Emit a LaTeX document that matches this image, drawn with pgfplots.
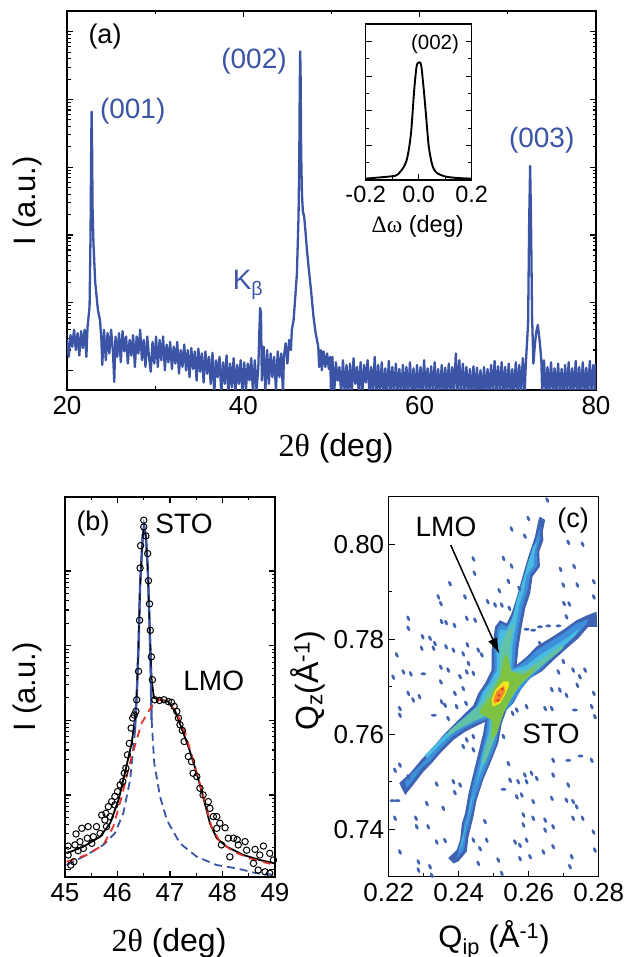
\documentclass[border=0pt]{standalone}
\usepackage{fontspec}
\usepackage{pgfplots}
\usetikzlibrary{arrows.meta}
\pgfplotsset{compat=1.18}
\setmainfont{Liberation Sans}
\newfontfamily\serifgreek{Liberation Serif}
\definecolor{xblue}{HTML}{3B54A5}
\definecolor{xred}{HTML}{E0342B}
\definecolor{cA}{HTML}{3F62B2}
\definecolor{cB}{HTML}{3C8FD8}
\definecolor{cC}{HTML}{49BBE0}
\definecolor{cD}{HTML}{62C2A5}
\definecolor{cE}{HTML}{7DC242}
\definecolor{cF}{HTML}{F5E51B}
\definecolor{cG}{HTML}{F28C28}
\definecolor{cH}{HTML}{E2482D}
\newcommand{\fs}[1]{\fontsize{#1}{#1}\selectfont}
\pgfplotsset{
  panel/.style={scale only axis, anchor=south west, axis line style={line width=1.9pt},
    tick align=inside, major tick length=6pt, minor tick length=3.5pt,
    every tick/.style={black,line width=1.3pt}, every minor tick/.style={black,line width=1.1pt},
    tick label style={font=\fs{26}}},
  table/logrows/.style={row sep=\\, header=false, x index=0, y expr={pow(10,\thisrowno{1})}},
}
\begin{document}
\begin{tikzpicture}[x=1pt,y=1pt]
\useasboundingbox (0,0) rectangle (627,957);

% (a) full scan, y column is log10 of intensity
\begin{axis}[panel, at={(67pt,567pt)}, width=529pt, height=379pt,
  xmin=20, xmax=80, ymode=log, ymin=0.513, ymax=202800,
  xtick={20,40,60,80}, xticklabels={20,40,60,80}, minor xtick={30,50,70},
  ytick={1,10,100,1000,10000,100000}, yticklabels={},
  xticklabel style={yshift=-3pt}]
\addplot[xblue, line width=2.3pt, line join=round] table[logrows] {
20.0 0.45\\20.2 0.20\\20.4 0.52\\20.6 0.35\\20.8 0.60\\21.0 0.30\\21.2 0.55\\21.4 0.22\\21.6 0.58\\21.8 0.33\\22.0 0.60\\22.2 0.20\\
22.33 0.64\\22.56 0.94\\22.67 2.02\\22.75 3.40\\22.79 3.82\\22.84 3.40\\22.90 2.40\\23.00 1.88\\23.20 1.30\\23.50 0.90\\23.74 0.74\\23.90 0.45\\24.0 0.08\\
24.2 0.60\\24.4 0.15\\24.6 0.55\\24.8 0.25\\25.0 0.60\\25.2 0.30\\25.36 -0.17\\25.5 0.50\\25.7 0.20\\25.9 0.55\\26.1 0.12\\26.3 0.58\\26.5 0.28\\26.7 0.50\\26.9 0.10\\
27.1 0.45\\27.3 0.22\\27.5 0.52\\27.7 0.05\\27.9 0.50\\28.1 0.25\\28.3 0.60\\28.5 0.15\\28.7 0.45\\28.9 0.05\\29.1 0.50\\29.3 0.20\\29.5 -0.02\\29.7 0.42\\29.9 0.10\\
30.1 0.50\\30.3 0.05\\30.5 0.45\\30.7 0.15\\30.9 0.50\\31.1 0.00\\31.3 0.38\\31.5 0.12\\31.7 0.42\\31.9 0.02\\32.1 0.35\\32.3 0.10\\32.5 0.42\\32.7 -0.05\\32.9 0.30\\
33.1 0.05\\33.3 0.38\\33.5 0.00\\33.7 0.30\\33.9 -0.10\\34.1 0.33\\34.3 0.02\\34.5 0.28\\34.7 -0.15\\34.9 0.32\\35.1 -0.02\\35.3 0.25\\35.5 -0.18\\35.7 0.28\\35.9 -0.05\\
36.1 0.20\\36.3 -0.20\\36.5 0.26\\36.7 -0.35\\36.9 0.15\\37.1 -0.10\\37.3 0.20\\37.5 -0.35\\37.7 0.12\\37.9 -0.20\\38.1 0.22\\38.3 -0.35\\38.5 0.10\\38.7 -0.25\\38.9 0.18\\
39.1 -0.35\\39.3 0.08\\39.5 -0.20\\39.7 0.15\\39.9 -0.35\\40.1 0.12\\40.3 -0.28\\40.5 0.10\\40.7 -0.15\\40.9 0.18\\41.1 -0.35\\41.3 0.15\\41.5 -0.30\\41.7 0.05\\
41.8 0.50\\41.9 0.92\\42.0 0.85\\42.1 -0.15\\42.3 0.35\\42.5 -0.30\\42.7 0.30\\42.9 -0.20\\43.1 0.25\\43.3 -0.10\\43.5 0.20\\43.7 -0.30\\43.9 0.28\\44.1 -0.10\\44.3 0.25\\44.5 -0.35\\
44.6 0.20\\44.8 0.40\\45.0 0.10\\45.2 0.45\\45.4 0.30\\45.5 0.60\\45.7 0.74\\45.9 1.10\\46.08 1.44\\46.26 2.27\\46.35 3.20\\46.40 4.20\\46.45 4.71\\46.50 4.30\\46.56 3.20\\46.65 2.60\\46.75 2.35\\46.90 2.27\\47.05 2.05\\47.20 1.80\\47.40 1.53\\47.70 1.15\\47.96 0.79\\48.20 0.55\\48.50 0.35\\
48.6 0.05\\48.8 0.30\\48.9 0.00\\49.1 0.28\\49.3 0.05\\49.5 0.25\\49.7 0.02\\49.85 0.20\\49.95 -0.35\\
50.1 0.20\\50.3 -0.35\\50.5 0.12\\50.7 -0.15\\50.9 0.05\\51.1 -0.35\\51.3 0.15\\51.5 -0.35\\51.7 0.08\\51.9 -0.35\\52.1 0.10\\52.3 -0.35\\52.5 0.18\\52.7 -0.20\\52.9 0.05\\
53.1 -0.35\\53.3 0.12\\53.5 -0.35\\53.7 0.08\\53.9 -0.18\\54.1 0.15\\54.3 -0.35\\54.5 0.05\\54.7 -0.35\\54.9 0.20\\55.1 -0.35\\55.3 0.08\\55.5 -0.35\\55.7 0.12\\55.9 -0.35\\
56.1 0.03\\56.3 -0.35\\56.5 0.14\\56.7 -0.35\\56.9 0.05\\57.1 -0.35\\57.3 0.10\\57.5 -0.35\\57.7 0.02\\57.9 -0.35\\58.1 0.08\\58.3 -0.35\\58.5 0.05\\58.7 -0.35\\58.9 0.12\\
59.1 -0.35\\59.3 0.03\\59.5 -0.35\\59.7 0.08\\59.9 -0.35\\60.1 0.05\\60.3 -0.35\\60.5 0.15\\60.7 -0.35\\60.9 0.03\\61.1 -0.35\\61.3 0.06\\61.5 -0.35\\61.7 0.12\\61.9 -0.35\\
62.1 0.02\\62.3 -0.35\\62.5 0.08\\62.7 -0.35\\62.9 0.04\\63.1 -0.35\\63.3 0.10\\63.5 -0.35\\63.7 0.05\\63.9 -0.35\\64.1 0.25\\64.3 -0.35\\64.5 0.15\\64.7 -0.35\\64.9 0.10\\
65.1 -0.35\\65.3 0.05\\65.5 -0.35\\65.7 0.02\\65.9 -0.35\\66.1 0.06\\66.3 -0.35\\66.5 0.04\\66.7 -0.35\\66.9 0.00\\67.1 -0.35\\67.3 0.05\\67.5 -0.35\\67.7 0.02\\67.9 -0.35\\
68.1 0.08\\68.3 -0.35\\68.5 0.14\\68.7 -0.35\\68.9 0.06\\69.1 -0.35\\69.3 0.12\\69.5 -0.35\\69.7 0.05\\69.9 -0.35\\70.1 0.10\\70.3 -0.35\\70.5 0.02\\70.7 -0.35\\70.9 0.12\\
71.1 -0.35\\71.3 0.08\\71.5 -0.35\\71.7 0.18\\71.9 -0.35\\72.05 0.12\\72.15 0.35\\72.30 0.70\\72.42 2.20\\72.53 3.02\\72.63 2.20\\72.75 0.80\\72.90 0.10\\73.05 0.35\\73.20 0.55\\73.40 0.67\\73.60 0.45\\73.80 0.15\\73.90 -0.35\\
74.1 0.15\\74.3 -0.35\\74.5 0.05\\74.7 -0.35\\74.9 0.12\\75.1 -0.35\\75.3 0.03\\75.5 -0.35\\75.7 0.10\\75.9 -0.35\\76.1 0.02\\76.3 -0.35\\76.5 0.08\\76.7 -0.35\\76.9 0.12\\
77.1 -0.35\\77.3 0.03\\77.5 -0.35\\77.7 0.14\\77.9 -0.35\\78.1 0.05\\78.3 -0.35\\78.5 0.12\\78.7 -0.35\\78.9 0.04\\79.1 -0.35\\79.3 0.14\\79.5 -0.35\\79.7 0.08\\79.9 -0.35\\80.0 0.10\\
};
\end{axis}

% inset rocking curve
\begin{axis}[scale only axis, anchor=south west, at={(365.7pt,777pt)}, width=106pt, height=156pt,
  axis line style={line width=1.5pt}, tick align=inside, major tick length=6pt, minor tick length=3.5pt,
  every tick/.style={black,line width=1.2pt}, every minor tick/.style={black,line width=1.1pt},
  xmin=-0.2, xmax=0.2, ymin=0, ymax=9.02,
  xtick={-0.2,0,0.2}, xticklabels={-0.2,0.0,0.2}, minor xtick={-0.1,0.1}, xtick pos=bottom,
  ytick={2,4,6,8}, yticklabels={}, minor ytick={1,3,5,7},
  xticklabel style={font=\fs{23.5},yshift=-3pt}]
\addplot[black, line width=1.9pt, smooth] coordinates {
(-0.2,0.08)(-0.105,0.21)(-0.08,0.31)(-0.055,0.79)(-0.042,1.37)(-0.029,2.71)(-0.017,5.2)(-0.008,6.56)(0,6.79)
(0.009,6.65)(0.018,5.4)(0.028,3.67)(0.038,1.94)(0.051,0.88)(0.066,0.44)(0.098,0.21)(0.142,0.12)(0.2,0.08)};
\end{axis}

% (b) zoom on the (002) peak, y column is log10 of intensity
\begin{axis}[panel, at={(65pt,80.3pt)}, width=210pt, height=380pt,
  xmin=45, xmax=49, ymode=log, ymin=0.0802, ymax=9908,
  xtick={45,46,47,48,49}, xticklabels={45,46,47,48,49}, minor xtick={45.5,46.5,47.5,48.5},
  ytick={0.1,1,10,100,1000}, yticklabels={},
  xticklabel style={yshift=-3pt}]
\addplot[only marks, mark=o, mark size=3.2pt, mark options={black,line width=1pt}] table[logrows] {
46.50 3.68\\46.50 3.59\\46.54 3.47\\46.44 3.34\\46.575 3.235\\46.43 3.04\\46.59 2.87\\46.61 2.56\\46.42 2.34\\46.625 2.206\\46.645 1.85\\46.40 1.655\\46.665 1.544\\46.365 1.275\\
46.35 1.12\\46.32 1.07\\46.29 1.03\\46.26 0.895\\46.225 0.69\\46.19 0.537\\46.16 0.358\\46.13 0.29\\46.10 0.18\\46.05 0.134\\46.00 0.045\\45.95 -0.02\\45.89 -0.09\\45.825 -0.157\\45.78 -0.246\\45.70 -0.27\\45.76 -0.336\\
45.60 -0.425\\45.44 -0.425\\45.32 -0.447\\45.21 -0.523\\45.425 -0.58\\45.54 -0.56\\45.285 -0.626\\45.19 -0.67\\45.06 -0.685\\45.35 -0.716\\45.25 -0.747\\45.51 -0.649\\45.06 -0.805\\45.17 -0.895\\45.11 -0.94\\45.67 -0.515\\45.79 -0.425\\45.86 -0.29\\45.95 -0.134\\
46.71 1.275\\46.80 1.266\\46.885 1.275\\46.97 1.25\\47.03 1.24\\47.08 1.186\\47.13 1.12\\47.16 1.03\\47.19 0.94\\47.235 0.864\\47.27 0.716\\47.35 0.515\\47.41 0.447\\47.44 0.29\\47.51 0.246\\47.57 0.09\\47.63 0\\47.73 -0.09\\47.76 -0.18\\47.825 -0.29\\47.89 -0.29\\47.95 -0.38\\48.05 -0.44\\47.89 -0.447\\47.98 -0.67\\
48.11 -0.58\\48.21 -0.58\\48.28 -0.60\\48.43 -0.626\\48.30 -0.67\\48.14 -0.83\\48.46 -0.74\\48.62 -0.73\\48.78 -0.685\\48.90 -0.783\\48.71 -0.805\\48.97 -0.872\\48.59 -0.917\\48.68 -1.007\\48.81 -1.03\\48.90 -1.05\\
};
% sum of the two fits
\addplot[black, line width=1.8pt] table[logrows] {
45.03 -0.783\\45.35 -0.694\\45.67 -0.559\\45.86 -0.38\\46.02 -0.067\\46.14 0.291\\46.27 0.694\\46.33 1.007\\46.365 1.32\\46.40 1.99\\46.43 2.80\\46.48 3.47\\46.505 3.60\\46.54 3.47\\46.575 3.06\\46.61 2.30\\46.65 1.54\\46.695 1.30\\46.81 1.275\\46.97 1.25\\47.10 1.12\\47.22 0.895\\47.35 0.649\\47.48 0.358\\47.63 -0.022\\47.76 -0.38\\47.89 -0.58\\48.08 -0.694\\48.40 -0.805\\48.71 -0.872\\49.00 -0.917\\
};
% STO tails
\addplot[xblue, dash pattern=on 8pt off 5pt, line width=1.8pt] table[logrows] {
45.03 -0.94\\45.41 -0.805\\45.73 -0.67\\45.95 -0.515\\46.11 -0.246\\46.24 0.20\\46.33 0.83\\
};
\addplot[xblue, dash pattern=on 8pt off 5pt, line width=1.8pt] table[logrows] {
46.65 1.007\\46.70 0.425\\46.81 -0.022\\46.94 -0.336\\47.19 -0.649\\47.51 -0.828\\47.89 -0.94\\48.27 -0.984\\48.65 -1.05\\49.00 -1.07\\
};
% STO peak
\addplot[xblue, line width=2.3pt] table[logrows] {
46.33 0.83\\46.37 1.40\\46.40 1.99\\46.43 2.80\\46.48 3.47\\46.505 3.60\\46.54 3.47\\46.575 3.06\\46.61 2.30\\46.63 1.70\\46.65 1.007\\
};
\addplot[black, dash pattern=on 7pt off 9pt, line width=1.1pt] table[logrows] {
46.365 1.32\\46.40 1.99\\46.43 2.80\\46.48 3.47\\46.505 3.60\\46.54 3.47\\46.575 3.06\\46.61 2.30\\46.65 1.54\\
};
% LMO
\addplot[xred, dash pattern=on 8pt off 6pt, line width=1.8pt] table[logrows] {
45.03 -0.895\\45.41 -0.805\\45.73 -0.67\\45.92 -0.425\\46.08 -0.022\\46.27 0.515\\46.46 0.962\\46.65 1.186\\46.81 1.284\\46.97 1.24\\47.13 1.096\\47.29 0.828\\47.44 0.47\\47.63 0\\47.79 -0.425\\47.95 -0.626\\48.21 -0.76\\48.52 -0.85\\49.00 -0.94\\
};
\end{axis}

% (c) reciprocal space map
\begin{axis}[panel, at={(388.7pt,80.3pt)}, width=210pt, height=380pt,
  axis line style={line width=1.5pt},
  xmin=0.22, xmax=0.28, ymin=0.73, ymax=0.81,
  xtick={0.22,0.24,0.26,0.28}, xticklabels={0.22,0.24,0.26,0.28}, minor xtick={0.23,0.25,0.27}, xtick pos=bottom,
  ytick={0.74,0.76,0.78,0.80}, yticklabels={0.74,0.76,0.78,0.80}, minor ytick={0.75,0.77,0.79}, ytick pos=left,
  xticklabel style={yshift=-3pt}, yticklabel style={xshift=-1pt}]
\addplot[only marks, mark=*, mark size=1.25pt, mark options={cA,draw=none,fill=cA,rotate=25,yscale=2.1}] coordinates {
(.2653,.8093)(.2599,.8054)(.2551,.8032)(.2589,.8017)(.2713,.8004)(.2754,.8000)(.2442,.7969)(.2528,.7970)(.2551,.7954)(.2691,.7947)
(.2730,.7953)(.2445,.7939)(.2375,.7917)(.2516,.7902)(.2542,.7922)(.2573,.7907)(.2699,.7914)(.2739,.7914)(.2786,.7921)(.2342,.7889)
(.2349,.7875)(.2418,.7889)(.2483,.7879)(.2504,.7872)(.2523,.7872)(.2545,.7865)(.2701,.7875)(.2716,.7874)(.2786,.7889)(.2256,.7844)
(.2256,.7823)(.2351,.7837)(.2364,.7835)(.2388,.7829)(.2423,.7844)(.2447,.7840)(.2708,.7847)(.2297,.7805)(.2318,.7802)(.2332,.7791)
(.2328,.7781)(.2294,.7781)(.2223,.7767)(.2364,.7784)(.2385,.7777)(.2413,.7769)(.2425,.7788)(.2456,.7777)(.2466,.7767)(.2632,.7791)
(.2428,.7749)(.2442,.7728)(.2423,.7731)(.2404,.7721)(.2370,.7735)(.2349,.7741)(.2242,.7731)(.2263,.7727)(.2213,.7720)(.2349,.7710)
(.2413,.7696)(.2389,.7686)(.2256,.7686)(.2270,.7672)(.2288,.7679)(.2232,.7654)(.2232,.7640)(.2351,.7668)(.2370,.7633)(.2394,.7658)
(.2421,.7665)(.2361,.7661)(.2666,.7694)(.2689,.7693)(.2708,.7682)(.2746,.7721)(.2761,.7735)(.2727,.7735)(.2685,.7731)(.2739,.7703)
(.2786,.7686)(.2789,.7637)(.2780,.7658)(.2666,.7654)(.2647,.7654)(.2594,.7658)(.2566,.7651)(.2554,.7644)(.2699,.7753)(.2423,.7588)
(.2442,.7595)(.2442,.7567)(.2413,.7574)(.2528,.7595)(.2542,.7538)(.2670,.7545)(.2780,.7545)(.2232,.7535)(.2218,.7524)(.2256,.7510)
(.2337,.7495)(.2385,.7500)(.2404,.7493)(.2389,.7477)(.2309,.7454)(.2356,.7444)(.2278,.7423)(.2280,.7405)(.2313,.7405)(.2218,.7423)
(.2547,.7503)(.2570,.7500)(.2589,.7514)(.2608,.7518)(.2594,.7500)(.2623,.7507)(.2580,.7472)(.2566,.7468)(.2613,.7458)(.2666,.7465)
(.2708,.7461)(.2727,.7458)(.2737,.7447)(.2713,.7493)(.2670,.7514)(.2585,.7430)(.2585,.7409)(.2613,.7423)(.2647,.7419)(.2647,.7398)
(.2670,.7405)(.2727,.7423)(.2754,.7423)(.2785,.7394)(.2475,.7416)(.2480,.7377)(.2461,.7359)(.2442,.7377)(.2361,.7376)(.2337,.7373)
(.2561,.7373)(.2575,.7366)(.2594,.7377)(.2670,.7363)(.2642,.7352)(.2604,.7342)(.2575,.7338)(.2513,.7335)(.2456,.7328)(.2285,.7331)
(.2318,.7321)(.2232,.7352)(.2789,.7356)(.2718,.7321)(.2723,.7342)(.2523,.7307)(.2285,.7314)(.2323,.7303)};
\addplot[only marks, mark=*, mark size=1.2pt, mark options={cA,draw=none,fill=cA,xscale=2.2}] coordinates {
(.2632,.7826)(.2656,.7828)(.2685,.7828)(.2613,.7819)(.2594,.7821)(.2299,.7727)(.2329,.7640)(.2732,.7651)(.2713,.7545)(.2748,.7554)(.2225,.7460)(.2211,.7460)(.2528,.7484)};
\addplot[fill=cA, draw=none] coordinates {
(.2632,.8058)(.2647,.8051)(.2640,.8026)(.2642,.8009)(.2630,.7984)(.2632,.7953)(.2611,.7932)(.2604,.7896)(.2590,.7865)(.2580,.7826)(.2571,.7784)(.2566,.7746)
(.2594,.7763)(.2623,.7785)(.2661,.7802)(.2699,.7820)(.2737,.7840)(.2766,.7850)(.2794,.7858)(.2796,.7826)(.2770,.7826)(.2742,.7802)(.2709,.7781)(.2671,.7756)
(.2637,.7732)(.2604,.7718)(.2580,.7697)(.2556,.7665)(.2537,.7651)(.2523,.7623)(.2513,.7581)(.2494,.7546)(.2470,.7504)(.2451,.7461)(.2442,.7426)(.2428,.7384)
(.2423,.7353)(.2399,.7332)(.2385,.7328)(.2370,.7339)(.2394,.7356)(.2404,.7377)(.2409,.7412)(.2418,.7433)(.2428,.7475)(.2442,.7518)(.2456,.7560)(.2470,.7602)
(.2475,.7626)(.2447,.7616)(.2418,.7605)(.2385,.7588)(.2351,.7563)(.2323,.7539)(.2299,.7521)(.2270,.7493)(.2247,.7472)(.2230,.7497)(.2261,.7518)(.2294,.7547)
(.2328,.7574)(.2356,.7598)(.2399,.7630)(.2442,.7661)(.2456,.7686)(.2475,.7707)(.2494,.7735)(.2494,.7777)(.2504,.7826)(.2518,.7840)(.2537,.7833)(.2551,.7854)
(.2566,.7889)(.2585,.7939)(.2599,.7974)(.2618,.8016)(.2628,.8051)} --cycle;
\addplot[fill=cB, draw=none] coordinates {
(.2634,.8037)(.2632,.8012)(.2623,.7984)(.2625,.7956)(.2604,.7935)(.2596,.7900)(.2582,.7867)(.2572,.7828)(.2563,.7786)(.2558,.7738)(.2594,.7756)(.2623,.7777)
(.2661,.7795)(.2699,.7812)(.2737,.7833)(.2770,.7842)(.2765,.7832)(.2737,.7810)(.2704,.7786)(.2666,.7760)(.2632,.7735)(.2599,.7714)(.2575,.7691)(.2550,.7661)
(.2530,.7647)(.2516,.7619)(.2507,.7581)(.2488,.7546)(.2464,.7503)(.2445,.7461)(.2435,.7426)(.2421,.7388)(.2415,.7356)(.2394,.7339)(.2402,.7359)(.2411,.7378)
(.2416,.7412)(.2426,.7433)(.2435,.7475)(.2449,.7517)(.2464,.7559)(.2478,.7602)(.2483,.7633)(.2447,.7623)(.2416,.7612)(.2383,.7595)(.2349,.7570)(.2320,.7545)
(.2294,.7528)(.2266,.7500)(.2251,.7486)(.2247,.7500)(.2266,.7517)(.2299,.7542)(.2332,.7568)(.2361,.7593)(.2404,.7624)(.2448,.7656)(.2464,.7686)(.2483,.7705)
(.2502,.7734)(.2502,.7777)(.2511,.7823)(.2521,.7833)(.2539,.7826)(.2558,.7853)(.2572,.7888)(.2591,.7937)(.2606,.7972)(.2623,.8014)} --cycle;
\addplot[fill=cC, draw=none] coordinates {
(.2623,.8005)(.2615,.7977)(.2615,.7956)(.2594,.7935)(.2587,.7903)(.2573,.7870)(.2564,.7830)(.2554,.7788)(.2550,.7735)(.2594,.7745)(.2632,.7767)(.2670,.7784)
(.2708,.7802)(.2746,.7823)(.2732,.7807)(.2699,.7786)(.2661,.7763)(.2627,.7741)(.2594,.7717)(.2567,.7694)(.2544,.7666)(.2523,.7647)(.2508,.7619)(.2497,.7581)
(.2478,.7547)(.2454,.7503)(.2435,.7461)(.2426,.7426)(.2411,.7384)(.2399,.7352)(.2411,.7370)(.2421,.7409)(.2432,.7437)(.2444,.7479)(.2458,.7521)(.2470,.7563)
(.2486,.7605)(.2489,.7640)(.2448,.7630)(.2413,.7617)(.2378,.7600)(.2345,.7577)(.2309,.7549)(.2304,.7556)(.2337,.7581)(.2370,.7605)(.2408,.7630)(.2456,.7661)
(.2470,.7689)(.2489,.7707)(.2510,.7735)(.2508,.7777)(.2518,.7819)(.2537,.7819)(.2554,.7846)(.2567,.7886)(.2585,.7928)(.2599,.7963)(.2613,.7995)} --cycle;
\addplot[fill=cD, draw=none] coordinates {
(.2558,.7833)(.2547,.7784)(.2545,.7731)(.2594,.7735)(.2642,.7760)(.2694,.7788)(.2699,.7781)(.2652,.7753)(.2614,.7729)(.2580,.7707)(.2551,.7679)(.2528,.7647)
(.2514,.7612)(.2494,.7574)(.2475,.7538)(.2466,.7542)(.2480,.7581)(.2494,.7612)(.2494,.7644)(.2451,.7630)(.2394,.7609)(.2370,.7595)(.2375,.7609)(.2423,.7637)
(.2466,.7666)(.2489,.7696)(.2516,.7724)(.2520,.7784)(.2537,.7816)} --cycle;
\addplot[fill=cE, draw=none] coordinates {
(.2537,.7770)(.2551,.7732)(.2585,.7725)(.2623,.7746)(.2604,.7725)(.2570,.7700)(.2547,.7672)(.2528,.7644)(.2508,.7602)(.2494,.7588)(.2494,.7630)(.2461,.7644)
(.2461,.7651)(.2490,.7679)(.2518,.7721)(.2528,.7756)} --cycle;
\addplot[fill=cF, draw=none] coordinates {
(.2542,.7711)(.2528,.7711)(.2504,.7693)(.2494,.7672)(.2497,.7658)(.2518,.7665)(.2532,.7682)(.2544,.7703)} --cycle;
\addplot[fill=cG, draw=none] coordinates {
(.2530,.7703)(.2508,.7690)(.2499,.7672)(.2501,.7664)(.2520,.7672)(.2532,.7689)} --cycle;
\addplot[only marks, mark=*, mark size=1.4pt, mark options={cH,draw=none,fill=cH}] coordinates {(.2525,.7695)(.2515,.7682)(.2512,.7671)};
\end{axis}

% labels, y = 957 - image row
\node[font=\fs{27}] at (105,920.3) {(a)};
\node[font=\fs{28},text=xblue] at (132.7,845.3) {(001)};
\node[font=\fs{28},text=xblue] at (254,896) {(002)};
\node[font=\fs{28},text=xblue] at (541.7,817) {(003)};
\node[font=\fs{28},text=xblue] at (248,672) {K\textsubscript{β}};
\node[font=\fs{20.5}] at (435,913) {(002)};
\node[font=\fs{23.5}] at (417.7,730.3) {{\serifgreek Δω} (deg)};
\node[font=\fs{31},rotate=90] at (27,756) {I (a.u.)};
\node[font=\fs{32}] at (336,509) {{\serifgreek 2θ} (deg)};
\node[font=\fs{27}] at (93,433) {(b)};
\node[font=\fs{28}] at (184,433) {STO};
\node[font=\fs{28}] at (213.7,276) {LMO};
\node[font=\fs{31},rotate=90] at (27,270) {I (a.u.)};
\node[font=\fs{32}] at (169,14) {{\serifgreek 2θ} (deg)};
\node[font=\fs{27}] at (573,436) {(c)};
\node[font=\fs{28}] at (446,430) {LMO};
\node[font=\fs{28}] at (551,223) {STO};
\node[font=\fs{32},rotate=90] at (308,276) {Q\textsubscript{z}(Å\textsuperscript{-1})};
\node[font=\fs{31}] at (494,17) {Q\textsubscript{ip} (Å\textsuperscript{-1})};
\draw[-{Latex[length=16pt,width=10pt]}, line width=1.5pt] (450.7,412) -- (499.3,303);
\end{tikzpicture}
\end{document}
